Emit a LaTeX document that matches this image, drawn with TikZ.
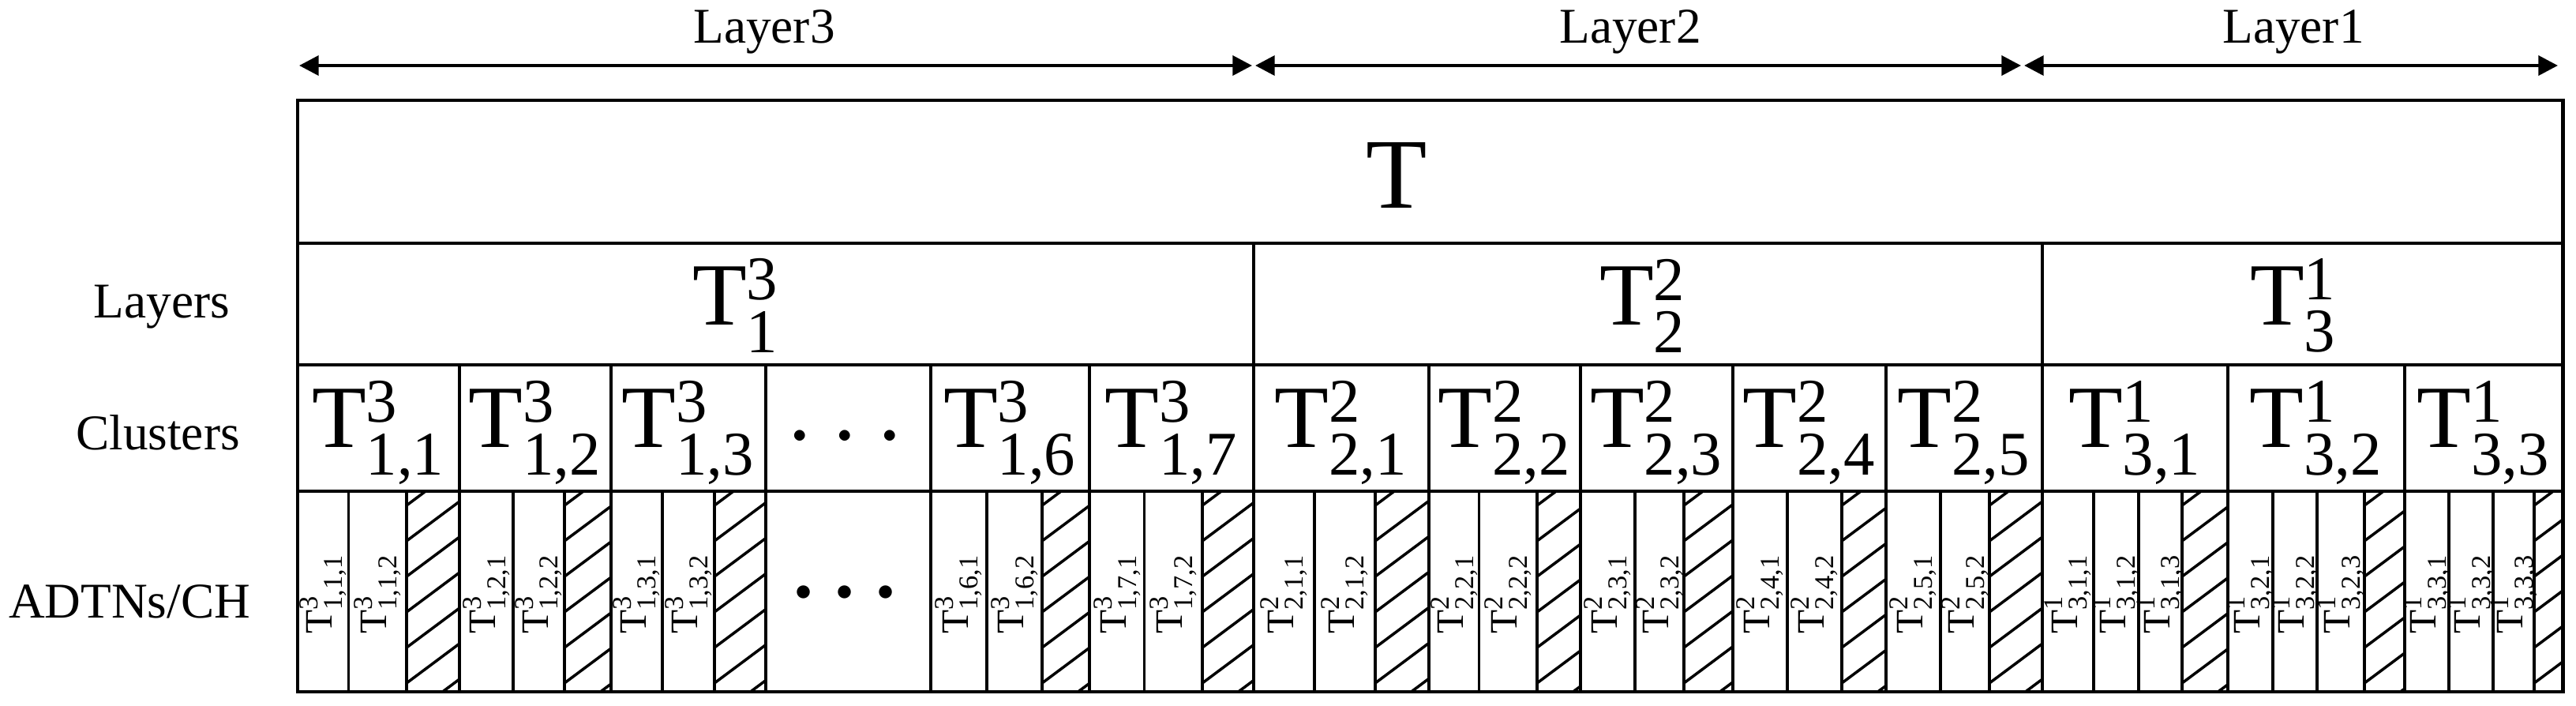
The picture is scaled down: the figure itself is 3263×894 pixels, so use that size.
\documentclass[tikz,border=0pt]{standalone}
\usepackage{amsmath}
\usepackage{fontspec}
\setmainfont{Liberation Serif}
\usetikzlibrary{arrows.meta}

\newcommand{\Tlab}[2]{T$^{\text{#1}}_{\text{#2}}$}

\tikzset{
  frame line/.style={line width=1.4pt},
  cell line/.style={line width=1.1pt},
  hatch line/.style={line width=1pt},
  span arrow/.style={line width=1.3pt, {Triangle[length=7pt,width=7pt]}-{Triangle[length=7pt,width=7pt]}},
  side text/.style={font=\fontsize{18}{20}\selectfont},
  big text/.style={font=\fontsize{36}{40}\selectfont},
  mid text/.style={font=\fontsize{32}{36}\selectfont},
  small text/.style={font=\fontsize{14}{15}\selectfont, rotate=90}
}

\begin{document}
\begin{tikzpicture}[x=0.01cm, y=-0.01cm]
\useasboundingbox (0,0) rectangle (3263,894);

% span arrows on top
\coordinate (l3-west) at (379,83);
\coordinate (l3-east) at (1586,83);
\coordinate (l2-west) at (1590,83);
\coordinate (l2-east) at (2560,83);
\coordinate (l1-west) at (2564,83);
\coordinate (l1-east) at (3240,83);
\draw[span arrow] (l3-west) -- (l3-east);
\draw[span arrow] (l2-west) -- (l2-east);
\draw[span arrow] (l1-west) -- (l1-east);
\node[side text, anchor=base] (layer3) at (968,55) {Layer3};
\node[side text, anchor=base] (layer2) at (2065,55) {Layer2};
\node[side text, anchor=base] (layer1) at (2905,55) {Layer1};

% row names
\node[side text] (lbl-layers) at (205,389) {Layers};
\node[side text] (lbl-clusters) at (200,548) {Clusters};
\node[side text] (lbl-adtns) at (164,762) {ADTNs/CH};

% hatched CH cells
\foreach \xa/\xb in {515/582, 715/774, 905/970, 1320/1380, 1523/1588, 1742/1810, 1947/2002,
                     2133/2195, 2333/2389, 2520/2587, 2764/2822, 2995/3046, 3210/3246} {
  \begin{scope}
    \clip (\xa,622) rectangle (\xb,876);
    \foreach \k in {0,...,7}
      \draw[hatch line] (\xa,640+\k*45) -- ++(110,-82);
  \end{scope}
}

% table lines
\draw[frame line] (377,127) rectangle (3246,876);
\foreach \y in {308,462,622}
  \draw[frame line] (377,\y) -- (3246,\y);
\foreach \x in {1588,2587}
  \draw[cell line] (\x,308) -- (\x,462);
\foreach \x in {582,774,970,1179,1380,1588,1810,2002,2195,2389,2587,2822,3046}
  \draw[cell line] (\x,462) -- (\x,876);
\foreach \x in {441.5,515,650,715,839,905,1250,1320,1449.5,1523,1665,1742,1873.5,1947,
                2071,2133,2264,2333,2458,2520,2652,2709,2764,2879,2935,2995,3102,3158,3210}
  \draw[cell line] (\x,622) -- (\x,876);

% T, layers and clusters
\node[big text] (t-all) at (1769,222) {T};
\node[mid text] (t-l3) at (932,387) {\Tlab{3}{1}};
\node[mid text] (t-l2) at (2081,387) {\Tlab{2}{2}};
\node[mid text] (t-l1) at (2905,387) {\Tlab{1}{3}};

\foreach \x/\up/\low [count=\i] in {479.5/3/{1,1}, 678/3/{1,2}, 872/3/{1,3}, 1279.5/3/{1,6},
    1484/3/{1,7}, 1699/2/{2,1}, 1906/2/{2,2}, 2098.5/2/{2,3}, 2292/2/{2,4}, 2488/2/{2,5},
    2704.5/1/{3,1}, 2934/1/{3,2}, 3146/1/{3,3}}
  \node[mid text] (cl-\i) at (\x,548) {\Tlab{\up}{\low}};
\node[font=\fontsize{10}{10}\selectfont] (cl-dots) at (1070,553) {$\bullet\hskip9pt\bullet\hskip9pt\bullet$};

% ADTNs / CH
\foreach \x/\up/\low [count=\i] in {409/3/{1,1,1}, 478/3/{1,1,2}, 616/3/{1,2,1}, 682.5/3/{1,2,2},
    806.5/3/{1,3,1}, 872/3/{1,3,2}, 1214.5/3/{1,6,1}, 1285/3/{1,6,2}, 1415/3/{1,7,1}, 1486/3/{1,7,2},
    1626.5/2/{2,1,1}, 1703.5/2/{2,1,2}, 1842/2/{2,2,1}, 1910/2/{2,2,2}, 2036.5/2/{2,3,1}, 2102/2/{2,3,2},
    2229.5/2/{2,4,1}, 2298.5/2/{2,4,2}, 2423.5/2/{2,5,1}, 2489/2/{2,5,2},
    2619.5/1/{3,1,1}, 2680.5/1/{3,1,2}, 2736.5/1/{3,1,3}, 2850.5/1/{3,2,1}, 2907/1/{3,2,2}, 2965/1/{3,2,3},
    3074/1/{3,3,1}, 3130/1/{3,3,2}, 3184/1/{3,3,3}}
  \node[small text] (adtn-\i) at (\x,752) {\Tlab{\up}{\low}};
\node[font=\fontsize{13}{13}\selectfont] (adtn-dots) at (1070,751) {$\bullet\hskip6pt\bullet\hskip6pt\bullet$};
\end{tikzpicture}
\end{document}
